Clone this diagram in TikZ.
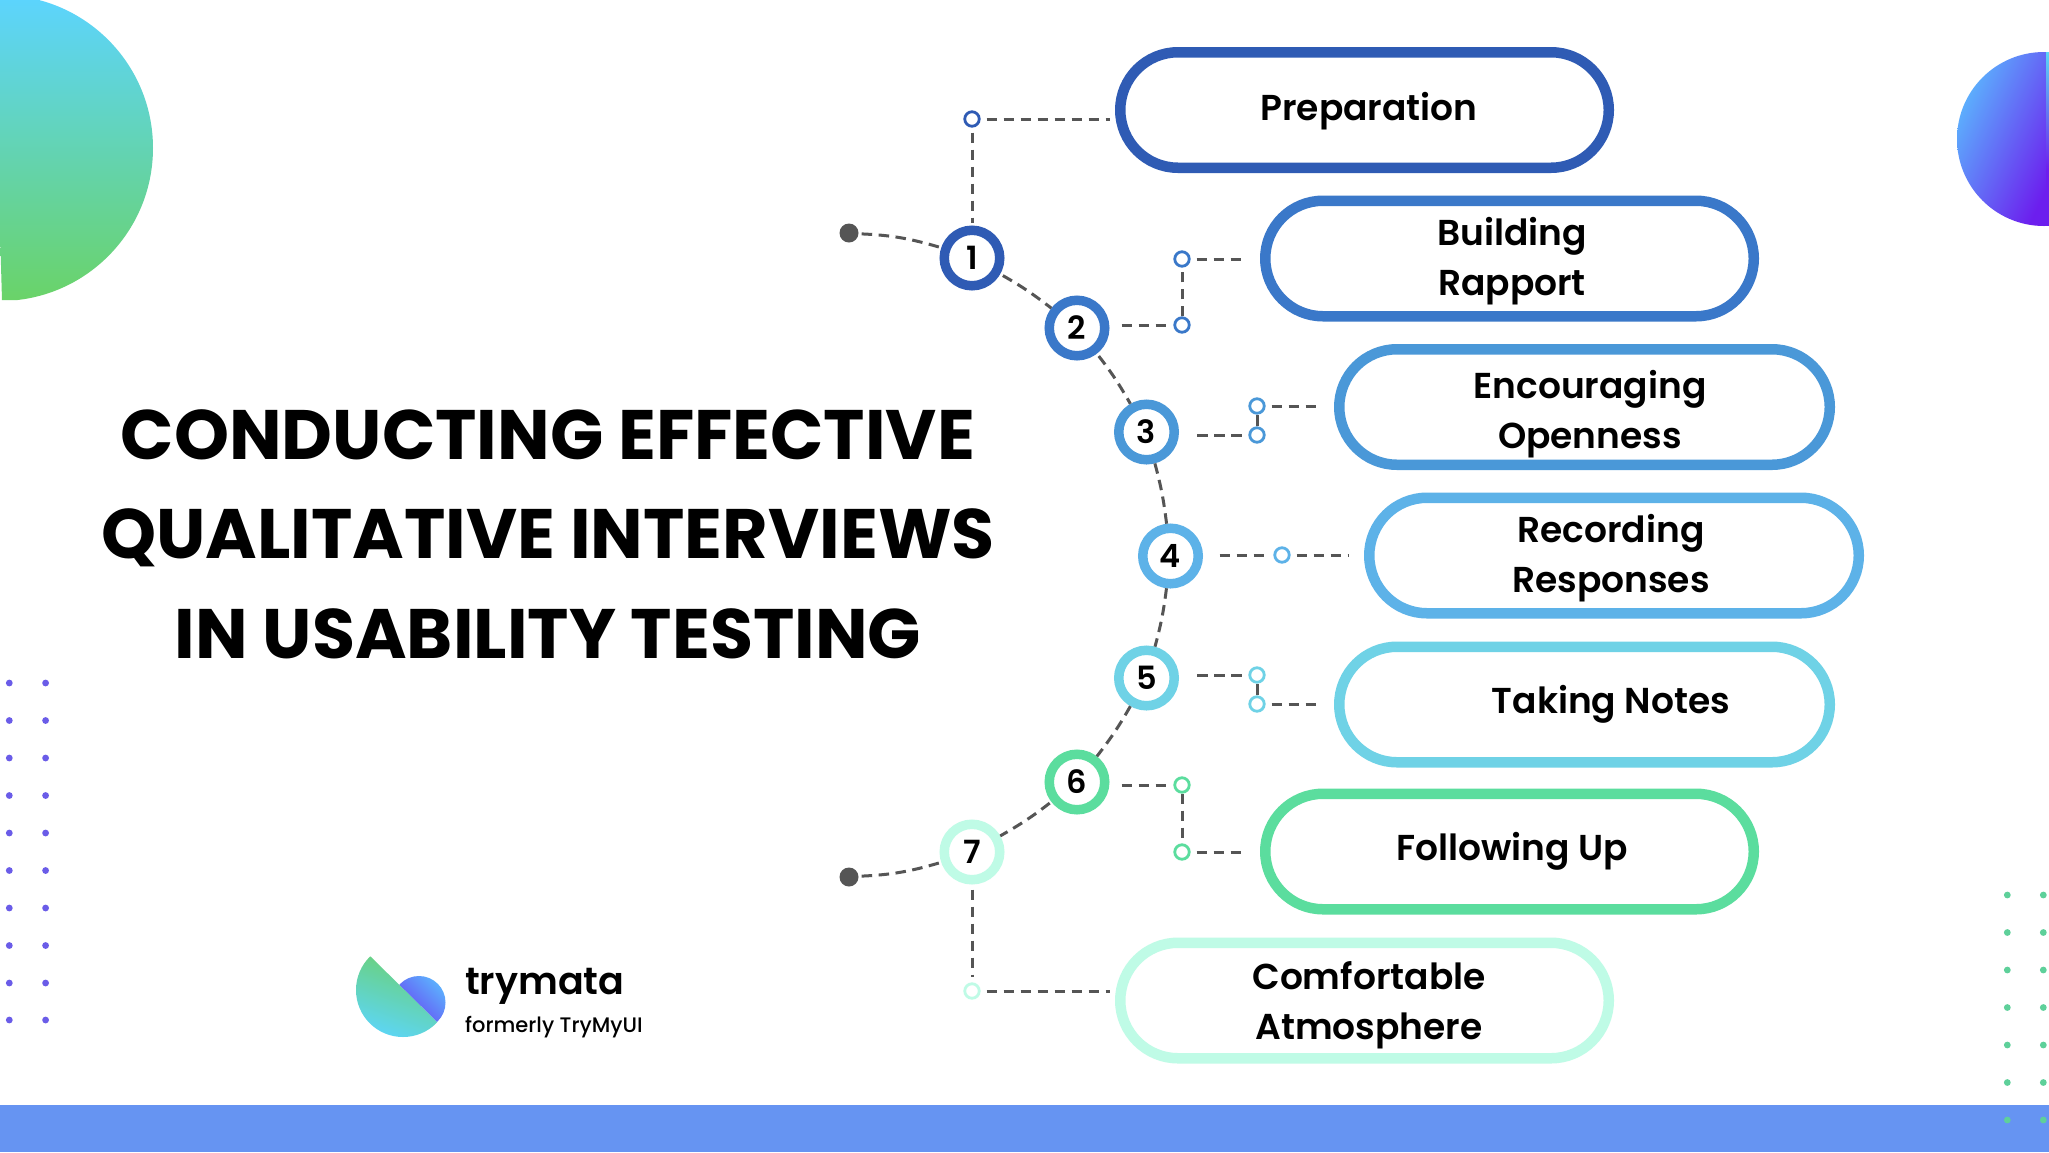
\documentclass[tikz,border=0pt]{standalone}
\usepackage{fontspec}
\setmainfont{Poppins}
\newfontfamily\popsb{Poppins SemiBold}
\newfontfamily\popmd{Poppins Medium}
\newfontfamily\popbd{Poppins Bold}
\usetikzlibrary{shapes.misc}
\definecolor{cA}{HTML}{2F5BB4}
\definecolor{cB}{HTML}{3A78C9}
\definecolor{cC}{HTML}{4A98D8}
\definecolor{cD}{HTML}{5DB2E8}
\definecolor{cE}{HTML}{6FD2E6}
\definecolor{cF}{HTML}{5BDD9E}
\definecolor{cG}{HTML}{BFFBE6}
\definecolor{dashc}{HTML}{555555}
\tikzset{
  x=1pt,y=-1pt,
  pill/.style={rounded rectangle,draw=#1,line width=10.5pt,fill=white,inner sep=0pt,minimum height=115.5pt,outer sep=0pt},
  numc/.style={circle,draw=#1,line width=9.5pt,fill=white,minimum size=55.5pt,inner sep=0pt,font=\popsb\fontsize{32}{32}\selectfont,outer sep=4.75pt},
  tiny/.style={circle,draw=#1,line width=2.8pt,fill=white,minimum size=14.5pt,inner sep=0pt,outer sep=1.3pt},
  lab/.style={font=\popsb\fontsize{36}{49.5}\selectfont,align=center,text=black,inner sep=0pt},
  dl/.style={draw=dashc,line width=3pt,dash pattern=on 10.5pt off 6.5pt},
  startdot/.style={circle,fill=dashc,minimum size=19pt,inner sep=0pt},
}
\begin{document}
\begin{tikzpicture}
\useasboundingbox (0,0) rectangle (2049,1152);
\fill[white] (0,0) rectangle (2049,1152);
% bar
\fill[fill={rgb,255:red,102;green,148;blue,242}] (0,1105) rectangle (2049,1152);
% top-left semicircle
\begin{scope}
\clip (0,-5) -- (0,230) -- (2,300) -- (153,300) -- (153,-5) -- cycle;
\clip (0,148) circle (153pt);
\shade[top color={rgb,255:red,92;green,212;blue,255},bottom color={rgb,255:red,106;green,211;blue,104}] (0,-5) rectangle (153,301);
\end{scope}
% top-right semicircle
\begin{scope}
\clip (2046,52) rectangle (1957,226);
\clip (2044,139) circle (87pt);
\shade[left color={rgb,255:red,90;green,195;blue,255},right color={rgb,255:red,108;green,30;blue,238},shading angle=65] (1950,45) rectangle (2049,232);
\end{scope}
\shade[top color={rgb,255:red,90;green,215;blue,245},bottom color={rgb,255:red,108;green,30;blue,238}] (2046,52) rectangle (2049,170);
\fill[fill={rgb,255:red,108;green,30;blue,238}] (2046,170) rectangle (2049,226);
% dots
\foreach \yy in {683,720.5,758,795.5,833,870.5,908,945.5,983,1020}{
  \fill[fill={rgb,255:red,106;green,92;blue,232}] (9.3,\yy) circle (3.4pt) (45.6,\yy) circle (3.4pt);
}
\foreach \yy in {895,932.5,970,1007.5,1045,1082.5,1120}{
  \fill[fill={rgb,255:red,94;green,208;blue,154}] (2007.3,\yy) circle (3.4pt) (2043.3,\yy) circle (3.4pt);
}
% title
\node[font=\popbd\fontsize{70}{99.5}\selectfont,align=center,text=black,inner sep=0pt] (title) at (548,534) {CONDUCTING EFFECTIVE\\QUALITATIVE INTERVIEWS\\IN USABILITY TESTING};
% logo
\begin{scope}
\clip (419,1002.5) circle (26.5pt);
\clip (370,956) -- (437,1022) -- (480,990) -- (420,950) -- cycle;
\shade[left color={rgb,255:red,106;green,50;blue,240},middle color={rgb,255:red,106;green,50;blue,240},right color={rgb,255:red,91;green,188;blue,255},shading angle=135] (390,970) rectangle (450,1030);
\end{scope}
\begin{scope}
\clip (403,990) circle (47pt);
\clip (370,956) -- (437,1022) -- (437,1050) -- (340,1050) -- (340,956) -- cycle;
\shade[top color={rgb,255:red,108;green,208;blue,106},bottom color={rgb,255:red,92;green,214;blue,250},shading angle=-20] (350,950) rectangle (445,1040);
\end{scope}
\node[anchor=base west,font=\popsb\fontsize{38}{38}\selectfont,inner sep=0pt] (brand) at (465,994) {trymata};
\node[anchor=base west,font=\popmd\fontsize{21}{21}\selectfont,inner sep=0pt] (former) at (465,1032) {formerly TryMyUI};
% pills
\node[pill=cA,minimum width=488.5pt] (p1) at (1364.5,110) {};
\node[pill=cB,minimum width=488.5pt] (p2) at (1509.5,258.5) {};
\node[pill=cC,minimum width=490.5pt] (p3) at (1584.5,407) {};
\node[pill=cD,minimum width=489.5pt] (p4) at (1614,555.5) {};
\node[pill=cE,minimum width=490.5pt] (p5) at (1584.5,704.5) {};
\node[pill=cF,minimum width=488.5pt] (p6) at (1509.5,851.5) {};
\node[pill=cG,minimum width=488.5pt] (p7) at (1364.5,1000.5) {};
\node[lab] (l1) at (1369,111) {Preparation};
\node[lab] (l2) at (1512,261) {Building\\Rapport};
\node[lab] (l3) at (1590,414) {Encouraging\\Openness};
\node[lab] (l4) at (1611,558) {Recording\\Responses};
\node[lab] (l5) at (1611,704) {Taking Notes};
\node[lab] (l6) at (1512,851) {Following Up};
\node[lab] (l7) at (1369,1005) {Comfortable\\Atmosphere};
% numbered circles
\node[numc=cA] (c1) at (972,258) {1};
\node[numc=cB] (c2) at (1077,328) {2};
\node[numc=cC] (c3) at (1146.5,432) {3};
\node[numc=cD] (c4) at (1170.5,556) {4};
\node[numc=cE] (c5) at (1146.5,678) {5};
\node[numc=cF] (c6) at (1077,782) {6};
\node[numc=cG] (c7) at (972,852) {7};
\node[startdot] (d1) at (849,233) {};
\node[startdot] (d2) at (849,877) {};
% small circles
\node[tiny=cA] (s1) at (972,119) {};
\node[tiny=cB] (s2a) at (1182,259) {};
\node[tiny=cB] (s2b) at (1182,325) {};
\node[tiny=cC] (s3a) at (1257,406) {};
\node[tiny=cC] (s3b) at (1257,435) {};
\node[tiny=cD] (s4) at (1282,555) {};
\node[tiny=cE] (s5a) at (1257,675) {};
\node[tiny=cE] (s5b) at (1257,704) {};
\node[tiny=cF] (s6a) at (1182,785) {};
\node[tiny=cF] (s6b) at (1182,852) {};
\node[tiny=cG] (s7) at (972,991) {};
% chain
\draw[dl,shorten <=3pt] (d1) to[bend left=7] (c1);
\draw[dl,shorten <=3pt] (c1) to[bend left=4] (c2);
\draw[dl,shorten <=3pt] (c2) to[bend left=4] (c3);
\draw[dl] (c3) to[bend left=4] (c4);
\draw[dl] (c4) to[bend left=4] (c5);
\draw[dl] (c5) to[bend left=4] (c6);
\draw[dl,shorten <=2pt] (c6) to[bend left=4] (c7);
\draw[dl,shorten <=3pt] (d2) to[bend right=7] (c7);
% branches
\draw[dl,shorten <=5pt,shorten >=3pt] (s1) -- (c1);
\draw[dl,shorten <=6pt,shorten >=10pt] (s1) -- (s1 -| p1.west);
\draw[dl,shorten >=6pt] (c2.east |- s2b) ++(12,0) -- (s2b);
\draw[dl] (s2b) -- (s2a);
\draw[dl,shorten <=6pt,shorten >=22pt] (s2a) -- (s2a -| p2.west);
\draw[dl,shorten >=6pt] (c3.east |- s3b) ++(18,0) -- (s3b);
\draw[dl,dash pattern=on 30pt off 0pt] (s3b) -- (s3a);
\draw[dl,shorten <=6pt,shorten >=21pt] (s3a) -- (s3a -| p3.west);
\draw[dl,shorten >=6pt] (c4.east |- s4) ++(16.5,0) -- (s4);
\draw[dl,shorten <=6pt,shorten >=20pt] (s4) -- (s4 -| p4.west);
\draw[dl,shorten >=6pt] (c5.east |- s5a) ++(18,0) -- (s5a);
\draw[dl,dash pattern=on 30pt off 0pt] (s5a) -- (s5b);
\draw[dl,shorten <=6pt,shorten >=21pt] (s5b) -- (s5b -| p5.west);
\draw[dl,shorten >=6pt] (c6.east |- s6a) ++(12,0) -- (s6a);
\draw[dl] (s6a) -- (s6b);
\draw[dl,shorten <=6pt,shorten >=22pt] (s6b) -- (s6b -| p6.west);
\draw[dl,shorten <=5pt,shorten >=5pt] (c7) -- (s7);
\draw[dl,shorten <=6pt,shorten >=10pt] (s7) -- (s7 -| p7.west);
\end{tikzpicture}
\end{document}
